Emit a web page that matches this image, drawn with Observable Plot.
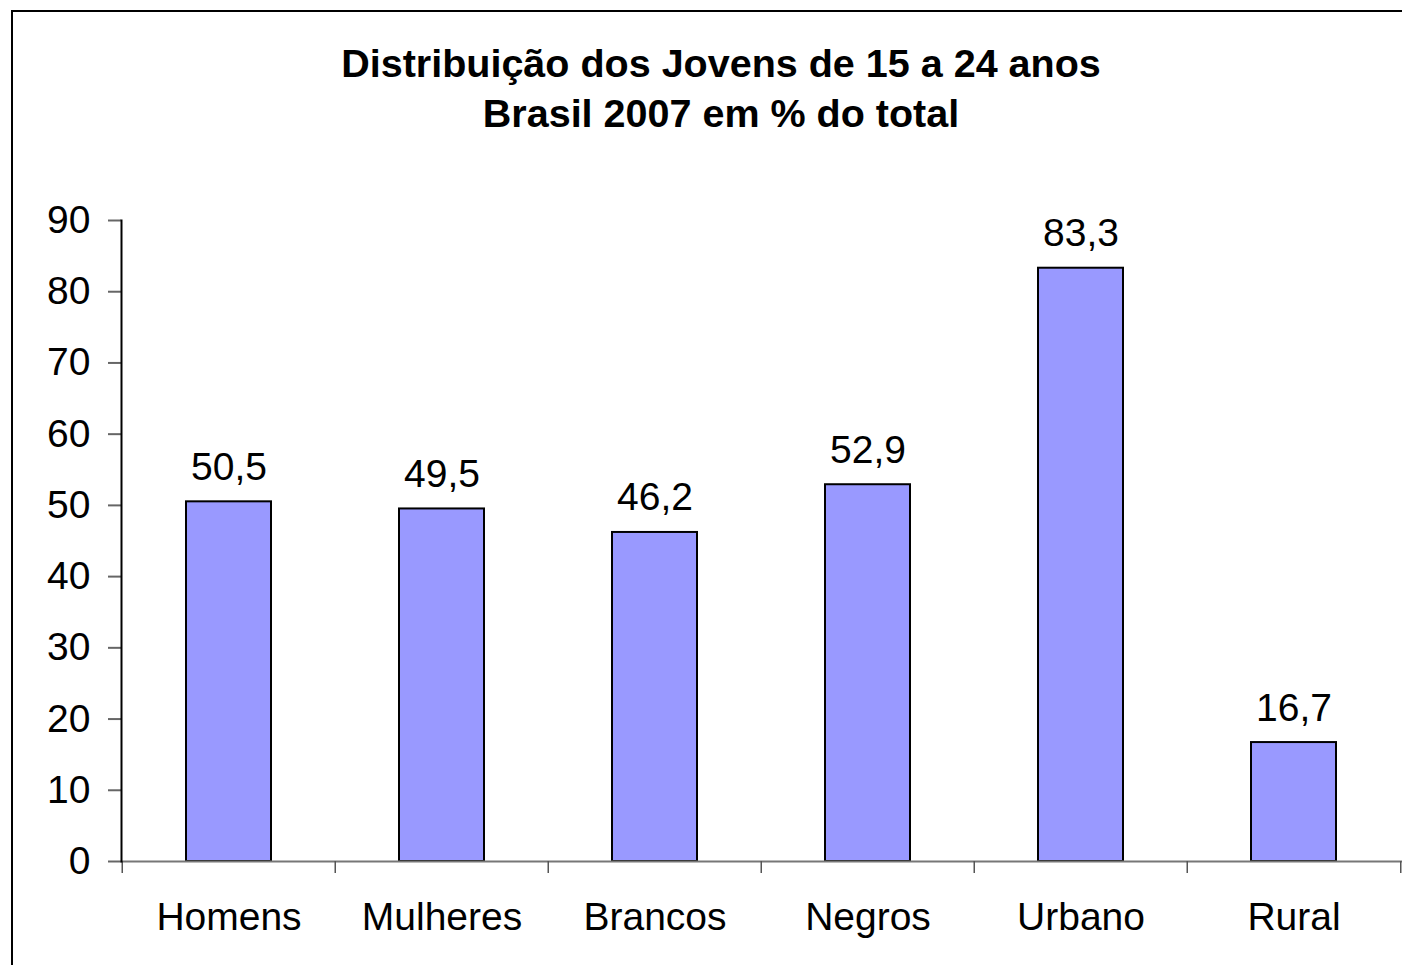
<!DOCTYPE html>
<html>
<head>
<meta charset="utf-8">
<script src="https://cdn.jsdelivr.net/npm/d3@7"></script>
<script src="https://cdn.jsdelivr.net/npm/@observablehq/plot@0.6"></script>
<style>
  html, body { margin: 0; padding: 0; background: #fff; }
  #wrap { position: relative; width: 1402px; height: 965px; overflow: hidden; font-family: "Liberation Sans", Arial, sans-serif; }
  #frame { position: absolute; left: 11px; top: 10px; right: -10px; bottom: -10px; border-left: 2px solid #000; border-top: 2px solid #000; pointer-events: none; }
  #title { position: absolute; left: 0; width: 1442px; top: 38px; text-align: center; font-weight: bold; font-size: 39.5px; line-height: 50px; color: #000; }
  #chart { position: absolute; left: 0; top: 0; }
</style>
</head>
<body>
<div id="wrap">
  <div id="chart"></div>
  <div id="frame"></div>
  <div id="title">Distribuição dos Jovens de 15 a 24 anos<br>Brasil 2007 em % do total</div>
</div>
<script>
const categories = ["Homens", "Mulheres", "Brancos", "Negros", "Urbano", "Rural"];
const values = [50.5, 49.5, 46.2, 52.9, 83.3, 16.7];
const yTicks = [0, 10, 20, 30, 40, 50, 60, 70, 80, 90];

const data = categories.map((c, i) => ({ category: c, value: values[i] }));

const W = 1402, H = 965;
const mL = 121, mR = 0, mT = 220, mB = 104;
const bw = (W - mL - mR) / categories.length;
const tickLenData = 12 * 90 / (H - mT - mB);

const chart = Plot.plot({
  width: W,
  height: H,
  marginLeft: mL,
  marginRight: mR,
  marginTop: mT,
  marginBottom: mB,
  style: { fontFamily: "'Liberation Sans', Arial, sans-serif", background: "transparent", color: "#000" },
  x: { domain: categories, paddingInner: 0.6, paddingOuter: 0.3, align: 0.5, label: null },
  y: { domain: [0, 90], label: null },
  marks: [
    Plot.barY(data, { x: "category", y: "value", fill: "#9999FF", stroke: "#000", strokeWidth: 2 }),
    Plot.ruleY([0], { stroke: "#777", strokeWidth: 2 }),
    Plot.ruleX(categories, { x: d => d, dx: -bw / 2, y1: 0, y2: -tickLenData, stroke: "#555", strokeWidth: 1.5 }),
    Plot.ruleX([categories[categories.length - 1]], { x: d => d, dx: bw / 2, y1: 0, y2: -tickLenData, stroke: "#555", strokeWidth: 1.5 }),
    Plot.axisY({ ticks: yTicks, tickSize: 13, tickPadding: 18, fontSize: 39, stroke: "#666", strokeWidth: 2, strokeOpacity: 1, tickFormat: d => String(d) }),
    Plot.frame({ anchor: "left", stroke: "#000", strokeWidth: 2 }),
    Plot.axisX({ tickSize: 0, tickPadding: 41, fontSize: 39 }),
    Plot.text(data, { x: "category", y: "value", text: d => d.value.toFixed(1).replace(".", ","), lineAnchor: "bottom", dy: -22, fontSize: 39, fill: "#000" })
  ]
});
document.getElementById("chart").appendChild(chart);
</script>
</body>
</html>
